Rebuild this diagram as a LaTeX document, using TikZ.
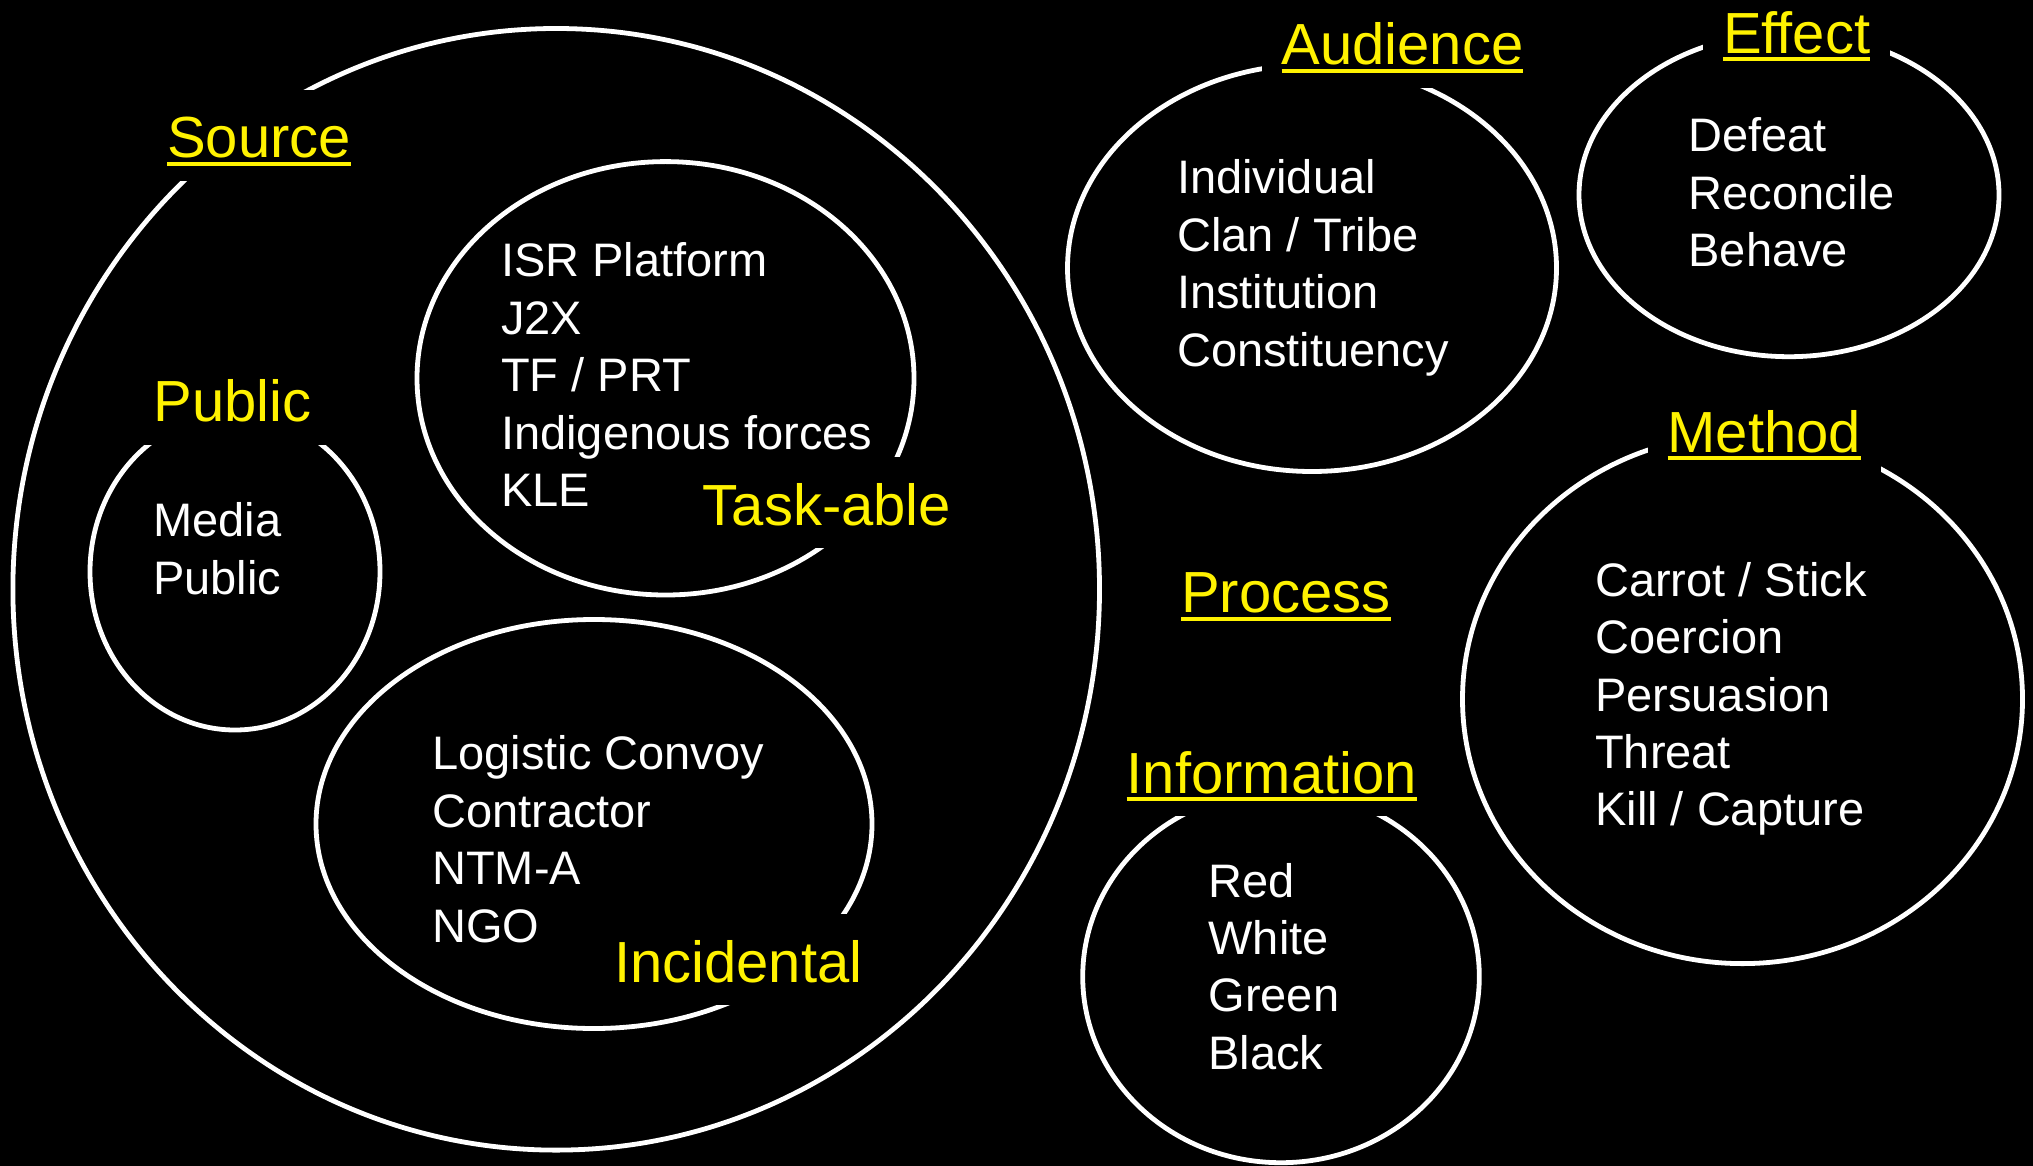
\documentclass[tikz,border=0pt]{standalone}
\usepackage{fontspec}
\setmainfont{Liberation Sans}
\newcommand\myul[1]{\setbox0\hbox{#1}\rlap{\rule[-8.2pt]{\wd0}{4pt}}\box0}
\begin{document}
\begin{tikzpicture}[x=1pt,y=-1pt,
  ring/.style={draw=white,line width=4.8pt},
  lbl/.style={fill=black,text=yellow,font=\fontsize{58}{69}\selectfont,inner xsep=20pt,inner ysep=0pt,text height=68pt,text depth=23pt,anchor=base},
  body/.style={text=white,font=\fontsize{47}{57.4}\selectfont,align=left,inner sep=0pt,anchor=base west}]
\useasboundingbox (0,0) rectangle (2033,1166);
\fill[black] (0,0) rectangle (2033,1166);
% ellipses
\coordinate (cSource) at (556.2,589.3);
\coordinate (cPublic) at (235,571.7);
\coordinate (cTask) at (665.5,378.3);
\coordinate (cInc) at (594,824);
\coordinate (cAud) at (1312,268);
\coordinate (cEff) at (1789,194.9);
\coordinate (cMeth) at (1742.5,699.1);
\coordinate (cInfo) at (1281,976.6);
\draw[ring] (cSource) ellipse [x radius=543.3, y radius=560.8];
\draw[ring] (cPublic) ellipse [x radius=145, y radius=158.3];
\draw[ring] (cTask) ellipse [x radius=248.5, y radius=216.7];
\draw[ring] (cInc) ellipse [x radius=278, y radius=204.5];
\draw[ring] (cAud) ellipse [x radius=244.5, y radius=203.5];
\draw[ring] (cEff) ellipse [x radius=210, y radius=161.8];
\draw[ring] (cMeth) ellipse [x radius=280, y radius=264.5];
\draw[ring] (cInfo) ellipse [x radius=198.3, y radius=186.1];
% labels
\node[lbl] (lSource) at (259,158) {\myul{Source}};
\node[lbl] (lPublic) at (232.5,421.7) {Public};
\node[lbl] (lTask) at (826.8,525) {Task-able};
\node[lbl] (lInc) at (738.2,982) {Incidental};
\node[lbl] (lAud) at (1402.5,65) {\myul{Audience}};
\node[lbl] (lEff) at (1796.7,53.3) {\myul{Effect}};
\node[lbl] (lMeth) at (1764.3,452) {\myul{Method}};
\node[lbl] (lProc) at (1285.8,612.6) {\myul{Process}};
\node[lbl] (lInfo) at (1271.7,793) {\myul{Information}};
% contents (anchored at the baseline of the last line)
\node[body] (tPublic) at (153,594.1) {Media\\Public};
\node[body] (tTask) at (501,506.5) {ISR Platform\\J2X\\TF / PRT\\Indigenous forces\\KLE};
\node[body] (tInc) at (432,942) {Logistic Convoy\\Contractor\\NTM-A\\NGO};
\node[body] (tAud) at (1177,366) {Individual\\Clan / Tribe\\Institution\\Constituency};
\node[body] (tEff) at (1688.3,266.6) {Defeat\\Reconcile\\Behave};
\node[body] (tMeth) at (1595,825.8) {Carrot / Stick\\Coercion\\Persuasion\\Threat\\Kill / Capture};
\node[body] (tInfo) at (1208.3,1069.3) {Red\\White\\Green\\Black};
\end{tikzpicture}
\end{document}
